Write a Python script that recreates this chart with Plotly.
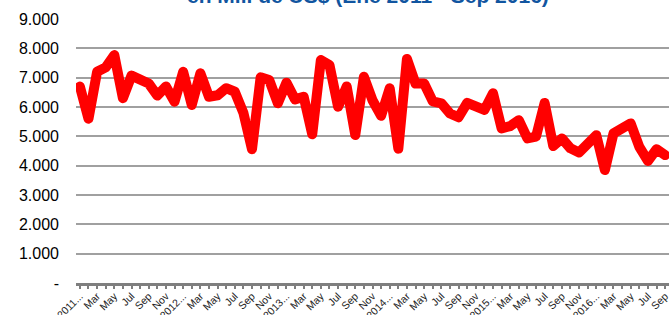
import plotly.graph_objects as go

mon_lbl = ["", "Feb", "Mar", "Apr", "May", "Jun", "Jul", "Aug", "Sep", "Oct", "Nov", "Dec"]
years = [2011, 2012, 2013, 2014, 2015, 2016]

values = [
    6700, 5600, 7200, 7350, 7770, 6300, 7070, 6920, 6800, 6390, 6700, 6180,   # 2011
    7200, 6070, 7150, 6350, 6400, 6640, 6520, 5800, 4560, 7010, 6920, 6125,   # 2012
    6830, 6260, 6350, 5070, 7600, 7430, 6010, 6700, 5045, 7030, 6230, 5700,   # 2013
    6640, 4580, 7640, 6800, 6800, 6190, 6125, 5780, 5650, 6140, 6000, 5900,   # 2014
    6470, 5270, 5350, 5550, 4930, 4990, 6140, 4670, 4930, 4590, 4450, 4760,   # 2015
    5040, 3850, 5100, 5270, 5440, 4640, 4160, 4560, 4360,                     # 2016
]

cat_labels = []
for y in years:
    for m in range(12):
        if len(cat_labels) >= len(values):
            break
        cat_labels.append(f"{y}..." if m == 0 else mon_lbl[m])

x_idx = list(range(len(values)))
tick_text = [lab if i % 2 == 0 else "" for i, lab in enumerate(cat_labels)]

y_ticks = [0, 1000, 2000, 3000, 4000, 5000, 6000, 7000, 8000, 9000]
y_tick_text = ["-", "1.000", "2.000", "3.000", "4.000", "5.000", "6.000", "7.000", "8.000", "9.000"]

title_text = "en Mill de US$ (Ene 2011 - Sep 2016)"

fig = go.Figure()
fig.add_trace(go.Scatter(
    x=x_idx, y=values, mode="lines",
    line=dict(color="#FF0000", width=10),
    hoverinfo="skip",
))

fig.update_layout(
    width=671, height=315,
    margin=dict(l=76, r=2, t=19, b=32),
    paper_bgcolor="white", plot_bgcolor="white",
    showlegend=False,
    font=dict(family="Arial, Liberation Sans, sans-serif", color="#000000"),
    annotations=[dict(
        text=f"<b>{title_text}</b>", xref="paper", yref="paper",
        x=0.4924, y=1.036, xanchor="center", yanchor="bottom",
        showarrow=False, font=dict(size=21, color="#1155A0"),
    )],
)

fig.update_xaxes(
    range=[-0.45, len(values) - 1 + 0.45],
    tickmode="array", tickvals=x_idx, ticktext=tick_text,
    tickangle=-45, tickfont=dict(size=10.5, color="#222222"),
    showgrid=False, zeroline=False, automargin=False,
    showline=True, linecolor="#7F7F7F", linewidth=3,
    ticks="outside", ticklen=3, tickcolor="#7F7F7F", tickwidth=2,
    ticklabelstandoff=-3,
)
fig.update_yaxes(
    range=[0, 9000],
    tickmode="array", tickvals=y_ticks, ticktext=y_tick_text,
    tickfont=dict(size=16, color="#000000"),
    showgrid=True, gridcolor="#A0A0A0", gridwidth=2,
    zeroline=False, showline=False, ticks="", automargin=False,
    ticklabelstandoff=16,
)

post = """
document.body.style.margin='0';
document.body.style.overflow='hidden';
document.querySelectorAll('.scatterlayer path.js-line').forEach(function(p){
  p.style.strokeLinejoin='round'; p.style.strokeLinecap='round';
});
"""
fig.write_html("out.html", post_script=post, config={"displayModeBar": False})
